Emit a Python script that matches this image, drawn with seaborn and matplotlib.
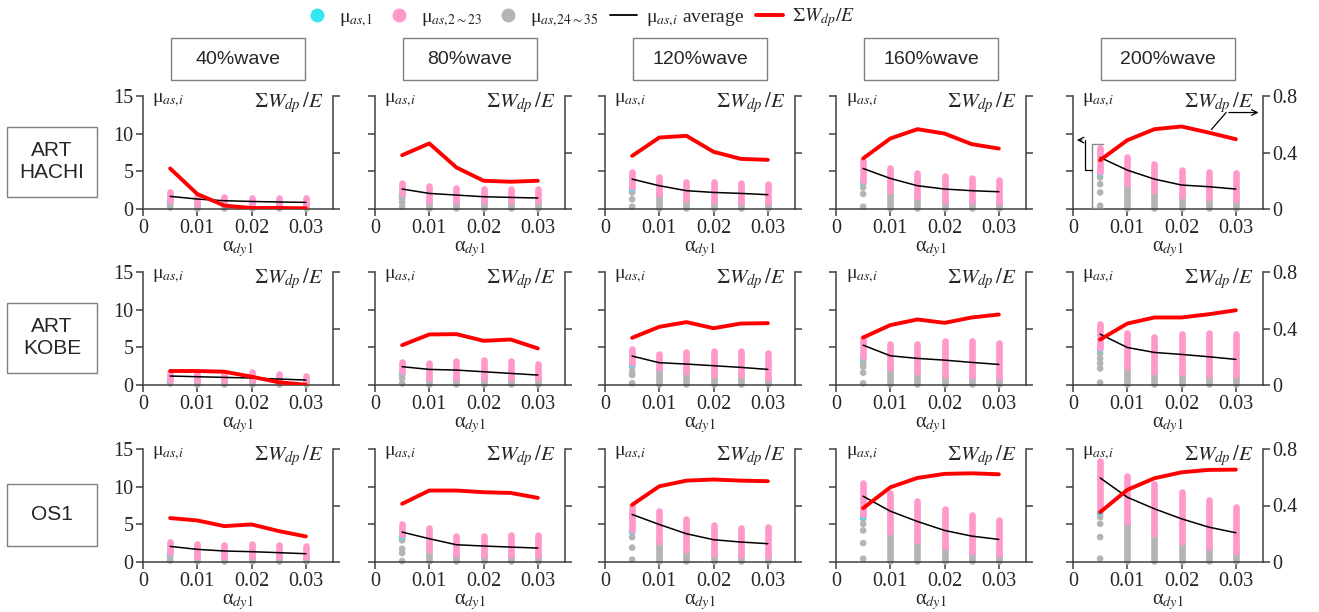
import numpy as np
import pandas as pd
import matplotlib
matplotlib.use("Agg")
import matplotlib.pyplot as plt
from matplotlib.lines import Line2D
from matplotlib.patches import Rectangle
import seaborn as sns

# ---- data ----
alphas = [0.005, 0.01, 0.015, 0.02, 0.025, 0.03]
waves = ['40%wave', '80%wave', '120%wave', '160%wave', '200%wave']
records = ['ART\nHACHI', 'ART\nKOBE', 'OS1']

# sum(Wdp)/E  (right axis), [row][col][alpha]
red_ratio = [
    [[0.287, 0.106, 0.024, 0.007, 0.007, 0.005],
     [0.381, 0.464, 0.294, 0.200, 0.193, 0.200],
     [0.376, 0.506, 0.518, 0.405, 0.355, 0.348],
     [0.358, 0.499, 0.565, 0.534, 0.459, 0.428],
     [0.346, 0.487, 0.565, 0.584, 0.541, 0.494]],
    [[0.099, 0.099, 0.094, 0.059, 0.019, 0.002],
     [0.282, 0.358, 0.360, 0.313, 0.322, 0.259],
     [0.334, 0.412, 0.445, 0.402, 0.435, 0.438],
     [0.336, 0.424, 0.464, 0.440, 0.478, 0.499],
     [0.322, 0.435, 0.478, 0.478, 0.501, 0.529]],
    [[0.311, 0.294, 0.254, 0.266, 0.219, 0.181],
     [0.412, 0.506, 0.506, 0.494, 0.489, 0.454],
     [0.405, 0.536, 0.576, 0.584, 0.576, 0.572],
     [0.381, 0.529, 0.595, 0.624, 0.628, 0.621],
     [0.353, 0.511, 0.593, 0.635, 0.652, 0.654]],
]

# mu_as,i average (left axis)
mu_avg = [
    [[1.68, 1.32, 1.10, 1.00, 0.93, 0.88],
     [2.65, 2.07, 1.85, 1.63, 1.54, 1.46],
     [3.97, 3.09, 2.43, 2.20, 2.07, 1.90],
     [5.38, 4.06, 3.09, 2.65, 2.43, 2.29],
     [6.84, 5.16, 3.97, 3.18, 2.96, 2.65]],
    [[1.19, 1.10, 1.01, 0.93, 0.79, 0.66],
     [2.43, 2.07, 1.98, 1.76, 1.54, 1.32],
     [3.84, 2.96, 2.78, 2.56, 2.34, 2.07],
     [5.29, 3.88, 3.53, 3.30, 3.00, 2.73],
     [6.75, 4.98, 4.32, 4.06, 3.75, 3.40]],
    [[2.07, 1.68, 1.46, 1.37, 1.24, 1.10],
     [3.97, 3.09, 2.29, 2.12, 1.98, 1.85],
     [6.31, 4.98, 3.75, 2.96, 2.65, 2.43],
     [8.73, 6.75, 5.38, 4.19, 3.44, 3.00],
     [11.16, 8.60, 7.06, 5.73, 4.63, 3.88]],
]

# range of mu for stories 2-23 (pink)
pink_top = [
    [[2.20, 1.76, 1.63, 1.46, 1.46, 1.46],
     [3.44, 3.00, 2.78, 2.65, 2.65, 2.60],
     [4.94, 4.28, 3.53, 3.53, 3.40, 3.30],
     [6.40, 5.50, 4.76, 4.32, 4.10, 3.88],
     [8.16, 6.93, 5.96, 5.16, 4.94, 4.76]],
    [[1.63, 1.63, 1.63, 1.76, 1.46, 1.19],
     [3.09, 2.87, 3.18, 3.30, 3.18, 2.73],
     [4.72, 4.06, 4.32, 4.54, 4.54, 4.19],
     [6.30, 5.38, 5.38, 5.82, 5.82, 5.60],
     [8.07, 6.84, 6.40, 6.75, 6.93, 6.75]],
    [[2.65, 2.34, 2.20, 2.34, 2.29, 2.12],
     [4.98, 4.50, 3.44, 3.44, 3.53, 3.53],
     [7.50, 6.75, 5.73, 4.85, 4.54, 4.63],
     [10.50, 9.13, 8.07, 7.06, 6.18, 5.60],
     [13.37, 11.47, 10.37, 9.26, 8.25, 7.28]],
]
pink_bot = [
    [[1.10, 0.70, 0.60, 0.55, 0.55, 0.55],
     [2.00, 1.10, 1.10, 1.10, 1.10, 1.10],
     [2.87, 2.00, 1.30, 1.00, 0.90, 0.90],
     [3.75, 2.43, 1.63, 1.10, 1.00, 0.90],
     [4.85, 3.30, 2.43, 1.76, 1.46, 1.19]],
    [[0.66, 0.66, 0.66, 0.66, 0.66, 0.66],
     [1.76, 0.88, 0.88, 0.88, 0.88, 0.88],
     [2.87, 2.20, 1.76, 1.32, 1.32, 0.88],
     [3.75, 2.20, 1.76, 1.32, 1.19, 1.00],
     [4.85, 2.43, 1.76, 1.54, 1.32, 1.32]],
    [[1.19, 0.66, 0.66, 0.66, 0.66, 0.66],
     [3.53, 1.54, 1.10, 0.90, 0.90, 0.90],
     [4.28, 2.65, 1.54, 1.00, 0.90, 0.75],
     [6.18, 3.97, 2.78, 1.98, 1.32, 1.10],
     [6.84, 5.29, 3.75, 2.65, 1.98, 1.32]],
]
# story 1 (cyan) at alpha = 0.005
cyan_mu = [
    [1.00, 1.85, 2.70, 3.55, 4.70],
    [0.60, 1.60, 2.70, 3.55, 4.70],
    [1.05, 3.35, 4.10, 5.95, 6.65],
]
# stories 24-35 (gray): lowest value of the strip, and separate dots at alpha = 0.005
gray_bot = [
    [0.15, 0.15, 0.15, 0.15, 0.15],
    [0.15, 0.15, 0.15, 0.15, 0.15],
    [0.15, 0.15, 0.15, 0.15, 0.15],
]
gray_dots_first = [
    [[0.2, 0.5, 0.8], [0.3, 0.9, 1.4, 1.8], [0.3, 1.3, 2.2, 2.6],
     [0.3, 2.0, 2.87, 3.4], [0.44, 2.2, 3.3, 4.2]],
    [[0.2, 0.5], [0.2, 0.9, 1.4], [0.22, 1.32, 1.76, 2.43],
     [0.22, 1.63, 2.43, 2.87, 3.3], [0.31, 2.2, 2.87, 3.53, 4.19]],
    [[0.2, 0.6, 0.9], [0.13, 1.19, 1.76, 2.87, 3.2], [0.31, 1.9, 3.3, 3.97],
     [0.44, 2.51, 4.19, 5.07, 5.73], [0.44, 3.31, 5.07, 5.96, 6.4]],
]

# ---- style ----
sns.set_style("ticks")
plt.rcParams['font.family'] = ['Liberation Serif', 'DejaVu Serif']
plt.rcParams['mathtext.fontset'] = 'stix'

PINK = '#FF99CC'
GRAY = '#B4B4B4'
CYAN = '#33E6F0'
AXC = '#404040'
FS = 14.5
STRIP = 4.8
SANS = ['Liberation Sans', 'DejaVu Sans']

W, H = 1319, 612
fig = plt.figure(figsize=(W / 100, H / 100), dpi=100)


def fx(px):
    return px / W


def fy(py):
    return 1 - py / H


col_left = [143, 375, 605, 836, 1073]
row_top = [96, 272, 449]
ax_w, ax_h = 190, 113

for r in range(3):
    for c in range(5):
        x0, y0 = col_left[c], row_top[r]
        ax = fig.add_axes([fx(x0), fy(y0 + ax_h), ax_w / W, ax_h / H])
        ax2 = ax.twinx()

        df = pd.DataFrame({'alpha': alphas, 'mu': mu_avg[r][c], 'ratio': red_ratio[r][c]})

        # gray strips (stories 24-35)
        ax.vlines(alphas[1:], gray_bot[r][c], pink_bot[r][c][1:], color=GRAY,
                  lw=STRIP, capstyle='round', zorder=2, clip_on=False)
        dots = gray_dots_first[r][c]
        sns.scatterplot(x=[alphas[0]] * len(dots), y=dots, ax=ax, color=GRAY,
                        s=STRIP ** 2, edgecolor='none', legend=False, zorder=2, clip_on=False)
        # cyan (story 1)
        ax.scatter([alphas[0]], [cyan_mu[r][c]], color=CYAN, s=STRIP ** 2,
                   edgecolor='none', zorder=3)
        # pink strips (stories 2-23)
        ax.vlines(alphas, pink_bot[r][c], pink_top[r][c], color=PINK,
                  lw=STRIP, capstyle='round', zorder=4)
        # average
        sns.lineplot(data=df, x='alpha', y='mu', ax=ax, color='black', lw=1.1, zorder=5)
        # sum Wdp / E
        sns.lineplot(data=df, x='alpha', y='ratio', ax=ax2, color='#FF0000', lw=2.8)

        ax.set_xlim(0, 0.035)
        ax.set_ylim(0, 15)
        ax2.set_ylim(0, 0.8)
        ax.set_xticks([0, 0.01, 0.02, 0.03])
        ax.set_xticklabels(['0', '0.01', '0.02', '0.03'])
        ax.set_yticks([0, 5, 10, 15])
        ax.set_yticklabels(['0', '5', '10', '15'])
        ax2.set_yticks([0, 0.4, 0.8])
        ax2.set_yticklabels(['0', '0.4', '0.8'])

        for sp in ['top', 'right']:
            ax.spines[sp].set_visible(False)
        for sp in ['top', 'left', 'bottom']:
            ax2.spines[sp].set_visible(False)
        for sp in ['left', 'bottom']:
            ax.spines[sp].set_color(AXC)
            ax.spines[sp].set_linewidth(1.1)
        ax2.spines['right'].set_color(AXC)
        ax2.spines['right'].set_linewidth(1.1)

        ax.tick_params(direction='out', length=5, width=1.1, color=AXC,
                       labelsize=FS, pad=2, labelleft=(c == 0))
        ax2.tick_params(direction='out', length=5, width=1.1, color=AXC,
                        labelsize=FS, pad=2, labelright=(c == 4))

        ax.set_xlabel(r'α$_{dy1}$', fontsize=FS, labelpad=1)
        ax.set_ylabel('')
        ax2.set_ylabel('')

        ax.text(0.05, 1.04, r'μ$_{as,\!i}$', transform=ax.transAxes, ha='left', va='top', fontsize=14)
        ax.text(0.95, 1.05, r'$\Sigma W_{dp}\,/E$', transform=ax.transAxes, ha='right', va='top', fontsize=15)

        if r == 0 and c == 4:
            # bracket round the points at the smallest alpha, arrow to the left axis
            ax.plot([0.0055, 0.0035, 0.0035, 0.0055], [8.62, 8.62, 0.13, 0.13],
                    color='#888888', lw=1, zorder=6)
            ax.plot([0.0035, 0.00215, 0.00215], [5.19, 5.19, 9.15], color='black', lw=0.9, zorder=6)
            ax.annotate('', xy=(0.0002, 9.15), xytext=(0.00215, 9.15),
                        arrowprops=dict(arrowstyle='->', lw=0.9, color='black'))
            # red curve to the right axis
            ax2.plot([0.0255, 0.0282], [0.563, 0.683], color='black', lw=0.9)
            ax2.annotate('', xy=(0.0347, 0.683), xytext=(0.0282, 0.683),
                         arrowprops=dict(arrowstyle='->', lw=0.9, color='black'),
                         annotation_clip=False)

# column titles
for c, name in enumerate(waves):
    cx = col_left[c] + ax_w / 2
    fig.patches.append(Rectangle((fx(cx - 67), fy(80)), 134 / W, 42 / H, transform=fig.transFigure,
                                 fill=False, edgecolor='#7F7F7F', lw=1))
    fig.text(fx(cx), fy(59), name, ha='center', va='center', fontsize=14, family=SANS)

# row titles
row_cy = [162, 338, 515]
row_bh = [70, 70, 62]
for r, name in enumerate(records):
    cy, bh = row_cy[r], row_bh[r]
    fig.patches.append(Rectangle((fx(7), fy(cy + bh / 2)), 90 / W, bh / H, transform=fig.transFigure,
                                 fill=False, edgecolor='#7F7F7F', lw=1))
    fig.text(fx(52), fy(cy), name, ha='center', va='center', fontsize=15, linespacing=1.2,
             family=SANS)

# legend
handles = [
    Line2D([], [], ls='none', marker='o', ms=10, color=CYAN, mec='none'),
    Line2D([], [], ls='none', marker='o', ms=10, color=PINK, mec='none'),
    Line2D([], [], ls='none', marker='o', ms=10, color=GRAY, mec='none'),
    Line2D([], [], color='black', lw=1.3),
    Line2D([], [], color='#FF0000', lw=2.8),
]
labels = [r'μ$_{as,\!1}$', r'μ$_{as,\!2\mathrm{\sim}23}$', r'μ$_{as,\!24\mathrm{\sim}35}$',
          r'μ$_{as,\!i}$ average', r'$\Sigma W_{dp}/E$']
fig.legend(handles, labels, loc='center', bbox_to_anchor=(fx(579), fy(18)), ncol=5,
           frameon=False, fontsize=14, handlelength=1.4, columnspacing=0.6, handletextpad=0.45)

plt.savefig('out.png', dpi=100)
